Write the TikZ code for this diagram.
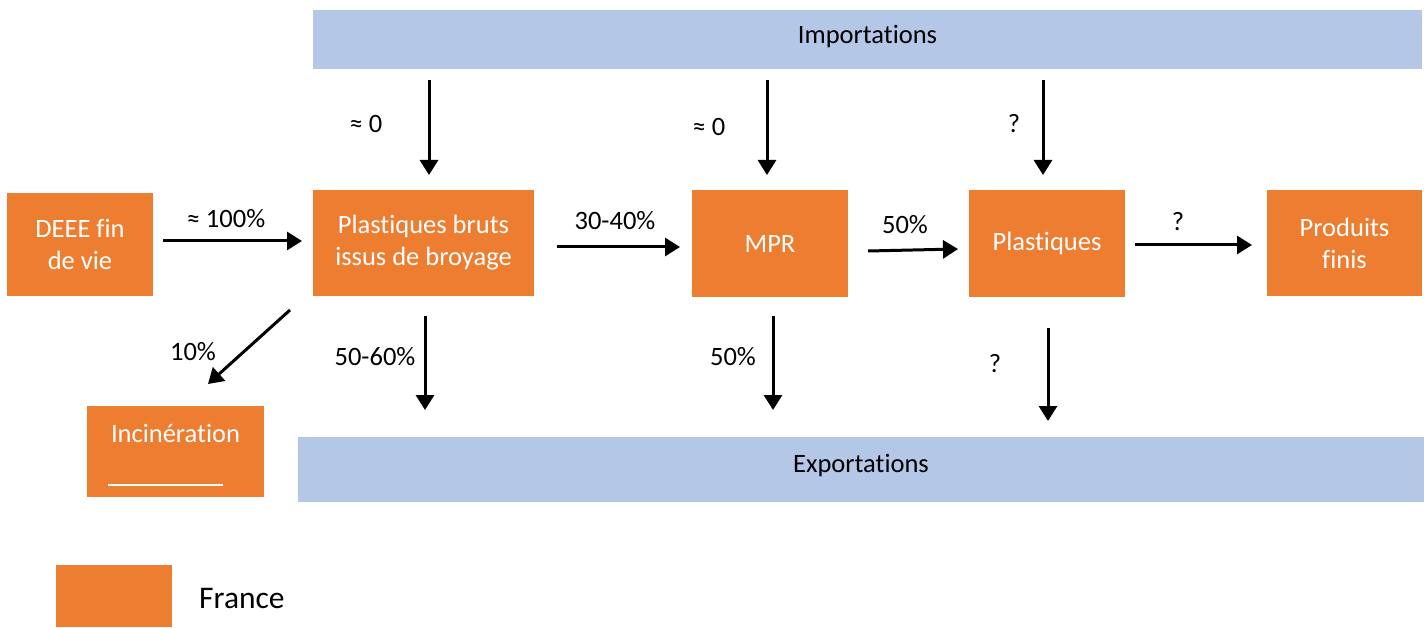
\documentclass[tikz,border=0pt]{standalone}
\usepackage{fontspec}
\setmainfont{Carlito}[Ligatures={NoCommon,NoContextual}]
\usetikzlibrary{arrows.meta}
\definecolor{orng}{HTML}{ED7D31}
\definecolor{lblue}{HTML}{B4C7E7}
\begin{document}
\begin{tikzpicture}[x=1pt,y=-1pt,
  txt/.style={font=\fontsize{26.5}{32}\selectfont, inner sep=0pt},
  box/.style={txt, fill=orng, text=white, align=center},
  band/.style={fill=lblue, inner sep=0pt},
  flow/.style={line width=3pt, -{Triangle[length=15pt,width=18pt]}},
  lbl/.style={txt, text=black}]
\useasboundingbox[fill=white] (0,0) rectangle (1427,628);

% bands
\node[band, minimum width=1109pt, minimum height=59pt] (imp) at (867.5,39.5) {};
\node[lbl] (impt) at (867.5,37) {Importations};
\node[band, minimum width=1126pt, minimum height=65pt] (exp) at (861,469.5) {};
\node[lbl] (expt) at (861,465.5) {Exportations};

% boxes
\node[box, minimum width=146pt, minimum height=103pt] (deee) at (80,244.5) {DEEE fin\\de vie};
\node[box, minimum width=221pt, minimum height=106pt] (pb) at (423.5,243) {Plastiques bruts\\issus de broyage};
\node[box, minimum width=156pt, minimum height=107pt] (mpr) at (770,243.5) {MPR};
\node[box, minimum width=156pt, minimum height=107pt] (pl) at (1047,243.5) {Plastiques};
\node[box, minimum width=155pt, minimum height=106pt] (pf) at (1344.5,243) {Produits\\finis};
\node[box, minimum width=177pt, minimum height=91pt] (inc) at (175.5,451.5) {};
\node[box, fill=none, anchor=base] (inct) at (175.5,442) {Incinération};
\draw[white, line width=2pt] (108,485) -- (223,485);

% legend
\node[box, minimum width=116pt, minimum height=62pt] (leg) at (114,596) {};
\node[txt, font=\fontsize{31.5}{36}\selectfont, anchor=west] (legt) at (199,599) {France};

% horizontal flows
\coordinate (a1) at (163,241); \coordinate (a2) at (302,241);
\draw[flow] (a1) -- (a2);
\node[lbl] at (226,219) {≈ 100\%};
\coordinate (b1) at (557,247); \coordinate (b2) at (680,247);
\draw[flow] (b1) -- (b2);
\node[lbl] at (615,221) {30-40\%};
\coordinate (c1) at (868,251); \coordinate (c2) at (958,249);
\draw[flow] (c1) -- (c2);
\node[lbl] at (905,225) {50\%};
\coordinate (d1) at (1135,245); \coordinate (d2) at (1252,245);
\draw[flow] (d1) -- (d2);
\node[lbl] at (1178,222) {?};

% imports
\coordinate (i1a) at (429,80); \coordinate (i1b) at (429,175);
\draw[flow] (i1a) -- (i1b);
\node[lbl] at (366,124) {≈ 0};
\coordinate (i2a) at (767,80); \coordinate (i2b) at (767,175);
\draw[flow] (i2a) -- (i2b);
\node[lbl] at (709,127) {≈ 0};
\coordinate (i3a) at (1043,80); \coordinate (i3b) at (1043,175);
\draw[flow] (i3a) -- (i3b);
\node[lbl] at (1014,124) {?};

% exports
\coordinate (e1a) at (425,316); \coordinate (e1b) at (425,410);
\draw[flow] (e1a) -- (e1b);
\node[lbl] at (375,357) {50-60\%};
\coordinate (e2a) at (773,316); \coordinate (e2b) at (773,410);
\draw[flow] (e2a) -- (e2b);
\node[lbl] at (733,357) {50\%};
\coordinate (e3a) at (1048,328); \coordinate (e3b) at (1048,421);
\draw[flow] (e3a) -- (e3b);
\node[lbl] at (995,364) {?};

% incineration
\coordinate (f1) at (290,310); \coordinate (f2) at (208,384);
\draw[flow] (f1) -- (f2);
\node[lbl] at (193,352) {10\%};
\end{tikzpicture}
\end{document}
